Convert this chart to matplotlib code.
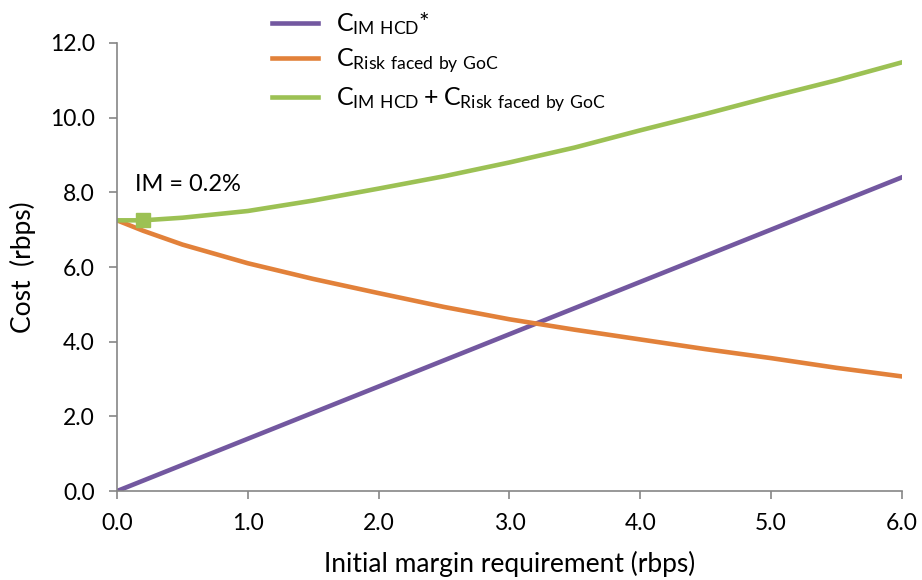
import matplotlib
matplotlib.use("Agg")
import matplotlib.pyplot as plt

plt.rcParams['font.family'] = ['Lato', 'DejaVu Sans']
plt.rcParams['mathtext.fontset'] = 'custom'
plt.rcParams['mathtext.rm'] = 'Lato'

# Initial margin requirement (rbps)
im = [0.0, 0.2, 0.5, 1.0, 1.5, 2.0, 2.5, 3.0, 3.5, 4.0, 4.5, 5.0, 5.5, 6.0]
# costs (rbps)
c_im_hcd = [0.0, 0.28, 0.7, 1.4, 2.1, 2.8, 3.5, 4.2, 4.9, 5.6, 6.3, 7.0, 7.7, 8.4]
c_risk = [7.25, 6.97, 6.6, 6.1, 5.68, 5.3, 4.93, 4.6, 4.32, 4.06, 3.8, 3.56, 3.3, 3.07]
c_total = [7.25, 7.25, 7.32, 7.5, 7.78, 8.1, 8.43, 8.8, 9.2, 9.66, 10.1, 10.56, 11.0, 11.48]

opt_im = 0.2
opt_cost = 7.25

fig = plt.figure(figsize=(9.22, 5.8), dpi=100)
ax = fig.add_axes([0.127, 0.1534, 0.851, 0.7725])

ax.plot(im, c_im_hcd, color='#7358A0', lw=3.3, label=r'$\mathregular{C_{IM\ HCD}}$*')
ax.plot(im, c_risk, color='#E2813A', lw=3.3, label=r'$\mathregular{C_{Risk\ faced\ by\ GoC}}$')
ax.plot(im, c_total, color='#9CC154', lw=3.3,
        label=r'$\mathregular{C_{IM\ HCD} + C_{Risk\ faced\ by\ GoC}}$')
ax.plot([opt_im], [opt_cost], 's', color='#9CC154', ms=10)
ax.text(0.14, 8.2, 'IM = 0.2%', fontsize=17, va='center', ha='left')

ax.set_xlim(0, 6)
ax.set_ylim(0, 12)
ax.set_xticks([0, 1, 2, 3, 4, 5, 6])
ax.set_yticks([0, 2, 4, 6, 8, 10, 12])
ax.xaxis.set_major_formatter(matplotlib.ticker.FormatStrFormatter('%.1f'))
ax.yaxis.set_major_formatter(matplotlib.ticker.FormatStrFormatter('%.1f'))
ax.tick_params(direction='out', length=6, width=1.2, color='#868686', labelsize=16.5)
ax.tick_params(axis='x', pad=10)
ax.tick_params(axis='y', pad=10)

for s in ['top', 'right']:
    ax.spines[s].set_visible(False)
for s in ['left', 'bottom']:
    ax.spines[s].set_color('#868686')
    ax.spines[s].set_linewidth(1.2)

ax.set_xlabel('Initial margin requirement (rbps)', fontsize=19, labelpad=12)
ax.set_ylabel('Cost  (rbps)', fontsize=19, labelpad=10)

ax.legend(loc='upper left', bbox_to_anchor=(0.295, 0.982), bbox_transform=fig.transFigure,
          frameon=False, fontsize=18, handlelength=1.85, labelspacing=0.38,
          handletextpad=0.7, borderpad=0, borderaxespad=0)

fig.savefig('out.png', dpi=100)
